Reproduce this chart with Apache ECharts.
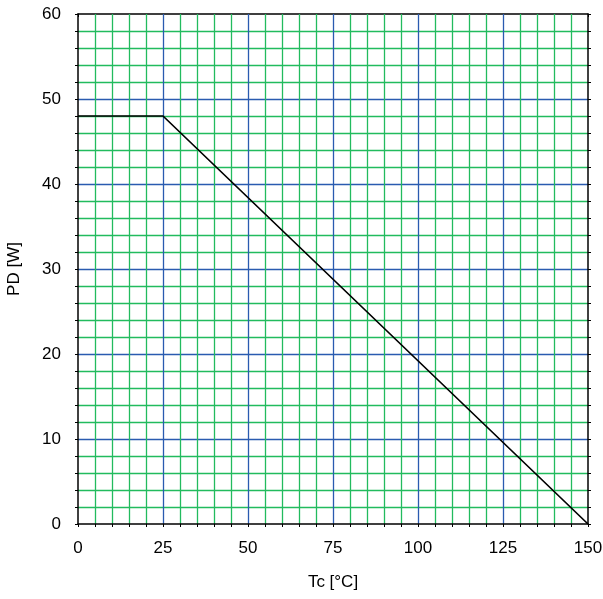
<!DOCTYPE html>
<html><head><meta charset="utf-8">
<script src="https://cdn.jsdelivr.net/npm/echarts@6/dist/echarts.min.js"></script>
<style>html,body{margin:0;padding:0;background:#fff}#c{width:603px;height:599px}</style>
</head><body><div id="c"></div>
<script>
var tcValues = [0, 25, 150];
var pdValues = [48, 48, 0];
var xTicks = [0, 25, 50, 75, 100, 125, 150];
var yTicks = [0, 10, 20, 30, 40, 50, 60];

var FONT = 'Liberation Sans, Arial, sans-serif';
var chart = echarts.init(document.getElementById('c'), null, {renderer: 'canvas'});
var green = '#22bb5e', blue = '#2a5bb0';
function baseAxis(extra) {
  return Object.assign({
    type: 'value',
    axisLine: {show: true, onZero: false, lineStyle: {color: '#000', width: 1.5}},
    axisTick: {show: true, length: 3, lineStyle: {color: '#000'}},
    minorTick: {show: true, splitNumber: 5, length: 3, lineStyle: {color: '#000'}},
    splitLine: {show: false},
    minorSplitLine: {show: false}
  }, extra);
}
var option = {
  animation: false,
  grid: {left: 78, right: 15, top: 14, bottom: 75, containLabel: false, outerBoundsMode: 'none'},
  xAxis: [
    baseAxis({
      min: xTicks[0], max: xTicks[xTicks.length - 1], interval: 25, position: 'bottom',
      name: 'Tc [°C]', nameLocation: 'middle', nameGap: 50,
      nameTextStyle: {fontFamily: FONT, fontSize: 17, color: '#000'},
      axisLabel: {fontFamily: FONT, fontSize: 17, color: '#000', margin: 16},
      splitLine: {show: true, showMinLine: false, showMaxLine: false, lineStyle: {color: blue, width: 1.3}},
      minorSplitLine: {show: true, lineStyle: {color: green, width: 1.3}},
      z: 1
    }),
    baseAxis({
      min: xTicks[0], max: xTicks[xTicks.length - 1], interval: 25, position: 'top',
      axisLabel: {show: false}, axisTick: {show: true, inside: true, length: 3, lineStyle: {color: '#000'}},
      minorTick: {show: true, splitNumber: 5, length: 3, lineStyle: {color: '#000'}}
    })
  ],
  yAxis: [
    baseAxis({
      min: yTicks[0], max: yTicks[yTicks.length - 1], interval: 10, position: 'left',
      name: 'PD [W]', nameLocation: 'middle', nameGap: 55, nameRotate: 90,
      nameTextStyle: {fontFamily: FONT, fontSize: 17, color: '#000'},
      axisLabel: {fontFamily: FONT, fontSize: 17, color: '#000', margin: 17},
      splitLine: {show: true, showMinLine: false, showMaxLine: false, lineStyle: {color: blue, width: 1.3}},
      minorSplitLine: {show: true, lineStyle: {color: green, width: 1.3}}
    }),
    baseAxis({
      min: yTicks[0], max: yTicks[yTicks.length - 1], interval: 10, position: 'right',
      axisLabel: {show: false}
    })
  ],
  series: [{
    type: 'line',
    data: tcValues.map(function (t, i) { return [t, pdValues[i]]; }),
    symbol: 'none',
    lineStyle: {color: '#000', width: 1.7},
    z: 5
  }]
};
chart.setOption(option);
</script></body></html>
